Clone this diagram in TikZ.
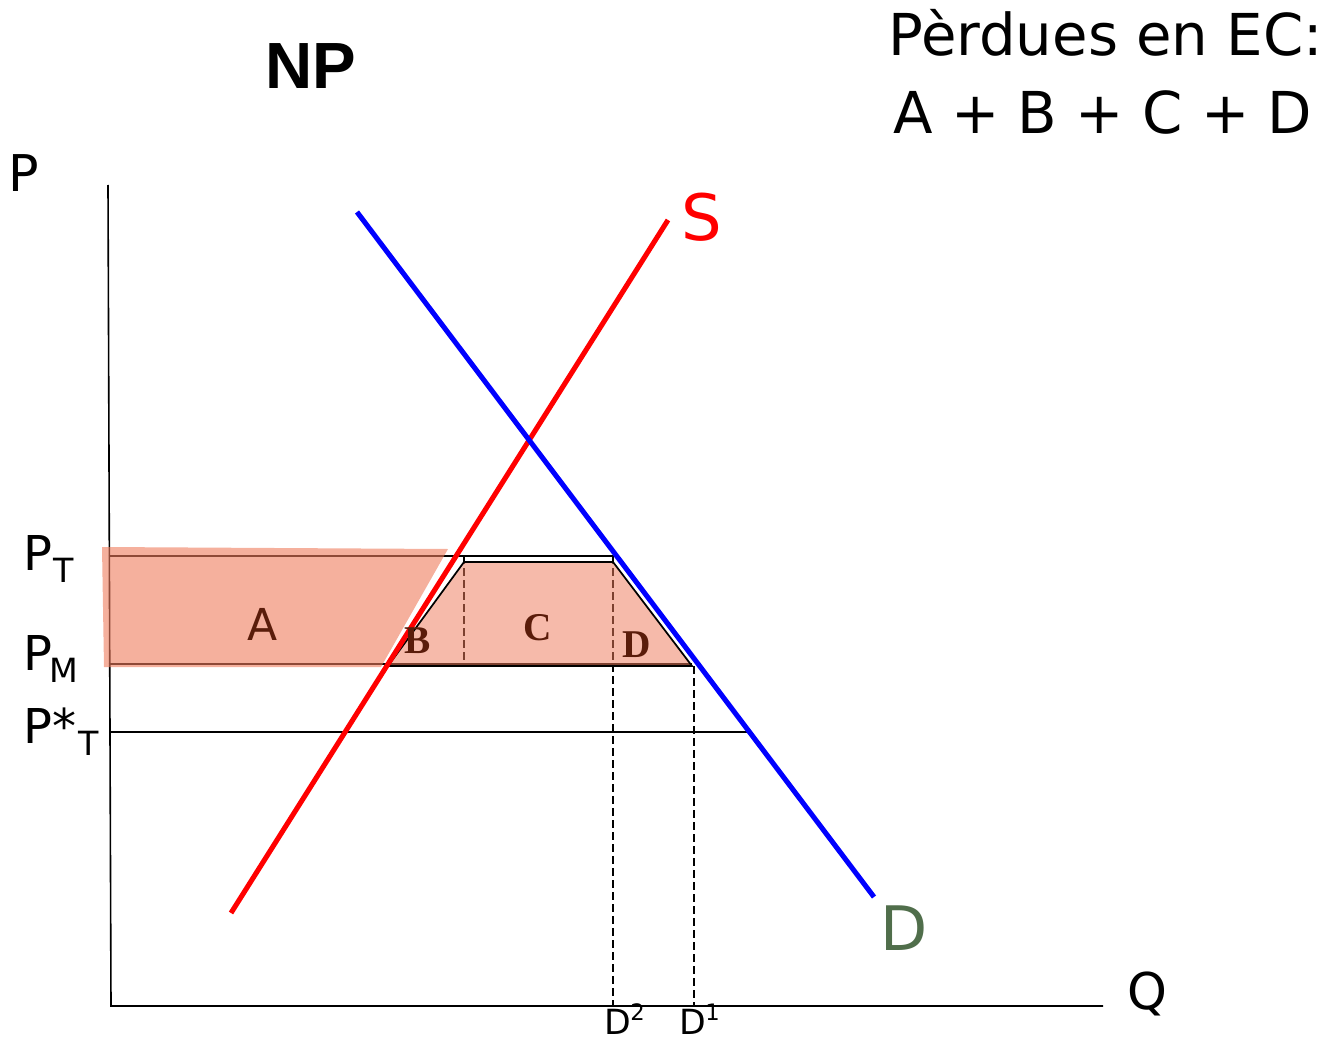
\documentclass[tikz,border=0pt]{standalone}
\usepackage{fontspec}
\setmainfont{DejaVu Sans}
\newfontfamily\npfont{Liberation Sans}
\newfontfamily\serfont{Liberation Serif}
\definecolor{shade}{RGB}{238,123,92}
\definecolor{brownlbl}{RGB}{90,28,10}
\definecolor{dgreen}{RGB}{80,110,75}
\tikzset{
  lbl/.style={inner sep=0pt, anchor=base west},
  axisline/.style={line width=1.2pt},
  guide/.style={line width=0.9pt},
  dashguide/.style={line width=0.9pt, dash pattern=on 6pt off 3pt},
  areaA/.style={fill=shade, fill opacity=0.6},
  areaT/.style={fill=shade, fill opacity=0.52},
  supply/.style={red, line width=3.8pt},
  demand/.style={blue, line width=3.8pt},
}
\newcommand{\fs}[1]{\fontsize{#1}{#1}\selectfont}
\begin{document}
\begin{tikzpicture}[x=0.75pt,y=-0.75pt]
\useasboundingbox (0,0) rectangle (1335,1038);
% key coordinates
\coordinate (Ytop) at (108,185);
\coordinate (O) at (111,1006);
\coordinate (Xend) at (1103,1006);
\coordinate (S0) at (231,913);
\coordinate (S1) at (668,220);
\coordinate (D0) at (357,212);
\coordinate (D1) at (874,897);
\coordinate (PTa) at (108.5,556);
\coordinate (PTb) at (614,556);
\coordinate (PMa) at (108.5,664);
\coordinate (PMb) at (692,664);
\coordinate (PSa) at (109.5,732);
\coordinate (PSb) at (749,732);
\coordinate (v1a) at (464,556);
\coordinate (v1b) at (464,666);
\coordinate (v2a) at (613,556);
\coordinate (v2b) at (613,1006);
\coordinate (v3a) at (694,666);
\coordinate (v3b) at (694,1006);
\coordinate (Tr1) at (388,666);
\coordinate (Tr2) at (464,562);
\coordinate (Tr3) at (613,562);
\coordinate (Tr4) at (692,666);
% axes and guide lines
\draw[axisline] (Ytop) -- (O) -- (Xend);
\draw[guide] (PTa) -- (PTb);
\draw[guide] (PMa) -- (PMb);
\draw[guide] (PSa) -- (PSb);
\draw[dashguide] (v1a) -- (v1b);
\draw[dashguide] (v2a) -- (v2b);
\draw[dashguide] (v3a) -- (v3b);
% shaded areas
\fill[areaA] (102,547) -- (448,549) -- (381,667) -- (104,667) -- cycle;
\fill[areaT] (Tr1) -- (Tr2) -- (Tr3) -- (Tr4) -- cycle;
\draw[line width=1.3pt] (Tr1) -- (Tr2) -- (Tr3) -- (Tr4) -- cycle;
% curves
\draw[supply] (S0) -- (S1);
\draw[demand] (D0) -- (D1);
% labels
\node[lbl] (t1) at (888,56) {\fs{43.3}Pèrdues en EC:};
\node[lbl] (t2) at (893,134) {\fs{43.3}A + B + C + D};
\node[lbl] (np) at (265,89) {\fs{49}\npfont\bfseries NP};
\node[lbl] (pl) at (8,192) {\fs{38}P};
\node[lbl] (ql) at (1127,1009) {\fs{38}Q};
\node[lbl, red] (sl) at (681,240) {\fs{48}S};
\node[lbl, dgreen] (dl) at (880,950) {\fs{46}D};
\node[lbl] (pt) at (23,570) {\fs{36}P};
\node[lbl] (ptsub) at (53,582) {\fs{25}T};
\node[lbl] (pm) at (23,670) {\fs{36}P};
\node[lbl] (pmsub) at (49,682) {\fs{25}M};
\node[lbl] (ps) at (23,743) {\fs{36}P*};
\node[lbl] (pssub) at (78,755) {\fs{25}T};
\node[lbl, brownlbl] (la) at (247,640) {\fs{33}A};
\node[lbl, brownlbl] (lb) at (404,653) {\fs{29.5}\serfont\bfseries B};
\node[lbl, brownlbl] (lc) at (523,640) {\fs{29.5}\serfont\bfseries C};
\node[lbl, brownlbl] (ld) at (622,657) {\fs{29.5}\serfont\bfseries D};
\node[lbl] (d2) at (604,1034) {\fs{26}D};
\node[lbl] (d2s) at (630,1020) {\fs{17}2};
\node[lbl] (d1) at (679,1034) {\fs{26}D};
\node[lbl] (d1s) at (705,1020) {\fs{17}1};
\end{tikzpicture}
\end{document}
